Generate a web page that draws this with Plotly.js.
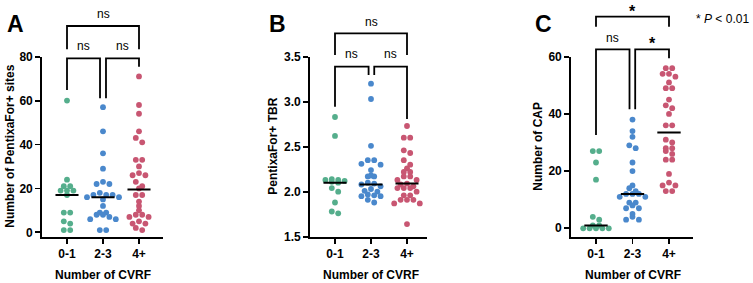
<!DOCTYPE html>
<html><head><meta charset="utf-8">
<script src="https://cdn.plot.ly/plotly-3.0.1.min.js"></script>
<style>html,body{margin:0;padding:0;background:#fff;}#chart{width:753px;height:283px;}</style>
</head><body><div id="chart"></div>
<script>
// ---------- data ----------
const categories = ['0-1', '2-3', '4+'];
const groupColors = ['#55ae8c', '#4a88cc', '#c85672'];

// Panel A: Number of PentixaFor+ sites
const sites01 = [60, 24, 21, 21, 19, 19, 19, 17, 9, 9, 5, 4, 1, 1];
const sites23 = [57, 46, 36, 29, 23, 22, 22, 18, 17, 17, 17, 16, 16, 15, 12, 9, 9, 8, 8, 7, 6, 6, 1, 1];
const sites4p = [71, 58, 54, 46, 43, 41, 33, 33, 30, 27, 26, 26, 23, 21, 20, 17, 17, 14, 12, 10, 8, 8, 7, 7, 5, 4, 4, 2, 1];
const sitesMedians = [17, 16, 19.5];

// Panel B: PentixaFor+ TBR
const tbr01 = [2.83, 2.62, 2.14, 2.13, 2.13, 2.12, 2.11, 2.10, 2.04, 2.00, 1.88, 1.78, 1.76];
const tbr23 = [3.20, 3.03, 2.51, 2.35, 2.35, 2.31, 2.30, 2.24, 2.18, 2.17, 2.17, 2.10, 2.09, 2.08, 2.06, 2.03, 2.01, 2.00, 1.97, 1.96, 1.95, 1.95, 1.91, 1.88];
const tbr4p = [2.73, 2.60, 2.60, 2.46, 2.43, 2.35, 2.30, 2.26, 2.22, 2.22, 2.17, 2.17, 2.13, 2.13, 2.09, 2.08, 2.06, 2.04, 2.04, 2.04, 2.00, 1.96, 1.96, 1.91, 1.91, 1.91, 1.87, 1.87, 1.64];
const tbrMedians = [2.10, 2.08, 2.09];

// Panel C: Number of CAP
const cap01 = [27, 27, 23, 17, 4, 3, 1, 1, 0, 0, 0, 0, 0];
const cap23 = [38, 34, 32, 29, 28, 23, 20, 15, 14, 13, 12, 12, 12, 11, 11, 9, 9, 8, 7, 7, 5, 4, 3, 3];
const cap4p = [56, 56, 54, 54, 53, 51, 49, 49, 45, 43, 42, 40, 36, 36, 31, 30, 28, 28, 27, 26, 24, 24, 19, 16, 15, 15, 13, 13];
const capMedians = [1, 12, 33.5];

// y tick values / labels
const sitesTicks = [0, 20, 40, 60, 80];
const tbrTicks = [1.5, 2.0, 2.5, 3.0, 3.5];
const tbrTickText = ['1.5', '2.0', '2.5', '3.0', '3.5'];
const capTicks = [0, 20, 40, 60];

// ---------- layout constants (pixels) ----------
const W = 753, H = 283;
const FONT = '"Liberation Sans", Arial, sans-serif';
const px2x = p => p / W;
const py2y = p => 1 - p / H;
const yTopPx = 56.7, yBotPx = 236.7;

const panels = [
  {id: '', left: 42, right: 163, c0: 67, unit: 36, yr: [-2, 80], letter: 'A', letterX: 15.5,
   ytitle: 'Number of PentixaFor+ sites', ytitleX: 10,
   groups: [sites01, sites23, sites4p], medians: sitesMedians, tickvals: sitesTicks, ticktext: sitesTicks.map(String)},
  {id: '2', left: 310, right: 427, c0: 335, unit: 36, yr: [1.5, 3.5], letter: 'B', letterX: 277,
   ytitle: 'PentixaFor+ TBR', ytitleX: 273,
   groups: [tbr01, tbr23, tbr4p], medians: tbrMedians, tickvals: tbrTicks, ticktext: tbrTickText},
  {id: '3', left: 571, right: 693, c0: 596, unit: 36.5, yr: [-2.94, 60], letter: 'C', letterX: 543,
   ytitle: 'Number of CAP', ytitleX: 538,
   groups: [cap01, cap23, cap4p], medians: capMedians, tickvals: capTicks, ticktext: capTicks.map(String)}
];

// brackets: [x1, x2, yTopPx, leg1EndPx, leg2EndPx, label, labelYpx]
const brackets = [
  [[0, 2, 26, 49.3, 49.3, 'ns', 14], [0, 0.917, 58.3, 90, 98.3, 'ns', 46], [1.083, 2, 58.3, 98.3, 66.7, 'ns', 46]],
  [[0, 2, 33.3, 55, 55, 'ns', 22], [0, 0.933, 66.7, 106.7, 75, 'ns', 53.5], [1.09, 2, 66.7, 75, 119, 'ns', 53.5]],
  [[0, 2, 16.7, 26.7, 26.7, '*', 11], [0, 0.918, 49.3, 135, 109.3, 'ns', 37.5], [1.074, 2, 49.3, 109.3, 58.3, '*', 43.3]]
];

// Prism-like column scatter: bin points by pixel height, spread each bin symmetrically
function swarm(values, pxPerY, yMin, binH, D) {
  const bins = {};
  values.forEach((v, i) => {
    const b = Math.floor((v - yMin) * pxPerY / binH);
    (bins[b] = bins[b] || []).push(i);
  });
  const offs = new Array(values.length).fill(0);
  Object.keys(bins).forEach(b => {
    const members = bins[b].slice().sort((a, c) => values[c] - values[a]);
    const k = members.length;
    const slots = [];
    for (let m = 0; m < k; m++) slots.push((m - (k - 1) / 2) * D);
    slots.sort((a, c) => Math.abs(a) - Math.abs(c) || a - c);
    members.forEach((idx, m) => { offs[idx] = slots[m]; });
  });
  return offs;
}

const traces = [];
const layout = {
  width: W, height: H, margin: {l: 0, r: 0, t: 0, b: 0},
  paper_bgcolor: '#fff', plot_bgcolor: 'rgba(0,0,0,0)',
  showlegend: false, font: {family: FONT, color: '#000', size: 12},
  annotations: [], shapes: []
};

panels.forEach((P, pi) => {
  const xa = 'x' + P.id, ya = 'y' + P.id;
  const xr = [(P.left - P.c0) / P.unit, (P.right - P.c0) / P.unit];
  const pxPerY = (yBotPx - yTopPx) / (P.yr[1] - P.yr[0]);
  layout['xaxis' + P.id] = {
    domain: [px2x(P.left), px2x(P.right)], range: xr, anchor: ya,
    tickvals: [0, 1, 2], ticktext: categories, showline: true, linecolor: '#000', linewidth: 1.8,
    ticks: 'outside', ticklen: 5, tickwidth: 1.8, tickcolor: '#000',
    tickfont: {family: FONT, size: 12, weight: 'bold', color: '#000'},
    showgrid: false, zeroline: false, fixedrange: true
  };
  layout['yaxis' + P.id] = {
    domain: [py2y(yBotPx), py2y(yTopPx)], range: P.yr, anchor: xa,
    tickvals: P.tickvals, ticktext: P.ticktext, showline: true, linecolor: '#000', linewidth: 1.8,
    ticks: 'outside', ticklen: 5, tickwidth: 1.8, tickcolor: '#000',
    tickfont: {family: FONT, size: 12, weight: 'bold', color: '#000'},
    showgrid: false, zeroline: false, fixedrange: true
  };
  P.groups.forEach((vals, k) => {
    const offs = swarm(vals, pxPerY, P.yr[0], 5.5, 6.4);
    traces.push({
      type: 'scatter', mode: 'markers', xaxis: xa, yaxis: ya,
      x: vals.map((v, i) => k + offs[i] / P.unit), y: vals, cliponaxis: false,
      marker: {symbol: 'circle', size: 5.8, color: groupColors[k], line: {width: 0}}
    });
  });
  P.medians.forEach((m, k) => {
    traces.push({
      type: 'scatter', mode: 'lines', xaxis: xa, yaxis: ya, cliponaxis: false,
      x: [k - 0.32, k + 0.32], y: [m, m], line: {color: '#000', width: 2}
    });
  });
  // titles
  layout.annotations.push({xref: xa, yref: 'paper', x: 1, y: py2y(275), text: 'Number of CVRF', showarrow: false,
    xanchor: 'center', yanchor: 'middle', font: {family: FONT, size: 12, weight: 'bold', color: '#000'}});
  layout.annotations.push({xref: 'paper', yref: 'paper', x: px2x(P.ytitleX), y: py2y(146.7), text: P.ytitle, showarrow: false,
    textangle: -90, xanchor: 'center', yanchor: 'middle', font: {family: FONT, size: 12, weight: 'bold', color: '#000'}});
  layout.annotations.push({xref: 'paper', yref: 'paper', x: px2x(P.letterX), y: py2y(23.5), text: P.letter, showarrow: false,
    xanchor: 'center', yanchor: 'middle', font: {family: FONT, size: 23, weight: 'bold', color: '#000'}});
  // brackets
  brackets[pi].forEach(b => {
    const [x1, x2, yt, l1, l2, lab, ly] = b;
    layout.shapes.push({type: 'path', xref: xa, yref: 'paper',
      path: `M${x1},${py2y(l1)} L${x1},${py2y(yt)} L${x2},${py2y(yt)} L${x2},${py2y(l2)}`,
      line: {color: '#000', width: 1.8}});
    const star = lab === '*';
    layout.annotations.push({xref: xa, yref: 'paper', x: (x1 + x2) / 2, y: py2y(ly), text: lab, showarrow: false,
      xanchor: 'center', yanchor: 'middle',
      font: {family: FONT, size: star ? 16 : 12, weight: star ? 'bold' : 'normal', color: '#000'}});
  });
});

layout.annotations.push({xref: 'paper', yref: 'paper', x: px2x(694), y: py2y(18.8), text: '* <i>P</i> &lt; 0.01',
  showarrow: false, xanchor: 'left', yanchor: 'middle', font: {family: FONT, size: 12, color: '#000'}});

Plotly.newPlot('chart', traces, layout, {staticPlot: true, displayModeBar: false});
</script></body></html>
